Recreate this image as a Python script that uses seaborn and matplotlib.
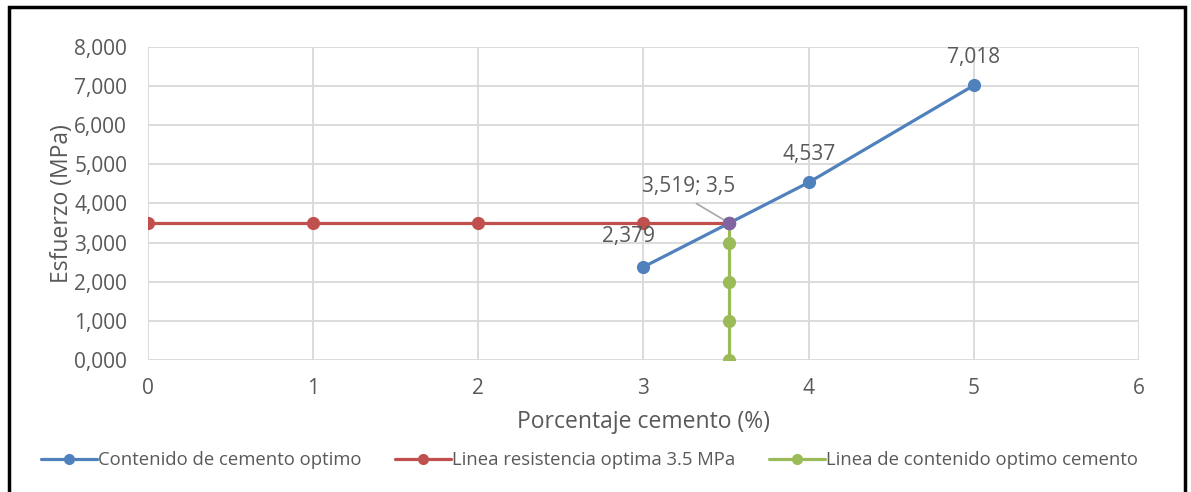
import matplotlib
matplotlib.use("Agg")
import matplotlib.pyplot as plt
from matplotlib.lines import Line2D
from matplotlib.patches import Rectangle
from matplotlib.ticker import FuncFormatter
import pandas as pd
import seaborn as sns

# Series data
cement_x = [3, 4, 5]
cement_y = [2.379, 4.537, 7.018]
resist_x = [0, 1, 2, 3, 3.519]
resist_y = [3.5, 3.5, 3.5, 3.5, 3.5]
optimal_x = [3.519, 3.519, 3.519, 3.519, 3.519]
optimal_y = [0, 1, 2, 3, 3.5]
cross_x = [3.519]
cross_y = [3.5]

names = ["Contenido de cemento optimo",
         "Linea resistencia optima 3.5 MPa",
         "Linea de contenido optimo cemento"]
colors = ["#4F81BD", "#C0504D", "#9BBB59"]
cross_color = "#8064A2"
text_color = "#595959"

x_ticks = [0, 1, 2, 3, 4, 5, 6]
y_ticks = [0, 1, 2, 3, 4, 5, 6, 7, 8]

sns.set_theme(style="whitegrid")
plt.rcParams["font.family"] = ["Open Sans", "DejaVu Sans"]

df = pd.concat([
    pd.DataFrame({"x": cement_x, "y": cement_y, "serie": names[0]}),
    pd.DataFrame({"x": resist_x, "y": resist_y, "serie": names[1]}),
    pd.DataFrame({"x": optimal_x, "y": optimal_y, "serie": names[2]}),
], ignore_index=True)

fig = plt.figure(figsize=(11.91, 4.92), dpi=100)
ax = fig.add_axes([0.1243, 0.2683, 0.832, 0.6362])

palette = dict(zip(names, colors))
for name in names:
    sub = df[df["serie"] == name]
    sns.lineplot(data=sub, x="x", y="y", color=palette[name], ax=ax,
                 linewidth=2.3, marker="o", markersize=9.5,
                 markeredgewidth=0, sort=False, estimator=None, legend=False)

# intersection point
sns.scatterplot(x=cross_x, y=cross_y, color=cross_color, s=95, linewidth=0,
                ax=ax, zorder=5, legend=False)

ax.set_xlim(0, 6)
ax.set_ylim(0, 8)
ax.set_xticks(x_ticks)
ax.set_yticks(y_ticks)
ax.yaxis.set_major_formatter(FuncFormatter(lambda v, p: f"{v:.3f}".replace(".", ",")))
ax.xaxis.set_major_formatter(FuncFormatter(lambda v, p: f"{v:g}"))
ax.grid(True, color="#D9D9D9", linewidth=1.3)
for s in ax.spines.values():
    s.set_visible(False)
ax.tick_params(axis="both", length=0, labelsize=15, colors=text_color)
ax.tick_params(axis="x", pad=13)
ax.tick_params(axis="y", pad=15)
ax.set_xlabel("Porcentaje cemento (%)", fontsize=16.5, color=text_color, labelpad=8)
ax.set_ylabel("Esfuerzo (MPa)", fontsize=16.5, color=text_color, labelpad=0)

def fmt(v, n=3):
    return f"{v:.{n}f}".replace(".", ",")

# value labels
for xv, yv in zip(cement_x[1:], cement_y[1:]):
    ax.annotate(fmt(yv), (xv, yv), xytext=(0, 20), textcoords="offset points",
                ha="center", va="center", fontsize=15, color=text_color)
ax.annotate(fmt(cement_y[0]), (cement_x[0], cement_y[0]), xytext=(-11, 22),
            textcoords="offset points", ha="center", va="center",
            fontsize=15, color=text_color)
ax.annotate(f"{fmt(cross_x[0])}; {fmt(cross_y[0], 1)}", (cross_x[0], cross_y[0]),
            xytext=(-29, 26), textcoords="offset points", ha="center", va="center",
            fontsize=15, color=text_color,
            arrowprops=dict(arrowstyle="-", color="#A6A6A6", lw=1.2,
                            shrinkA=4, shrinkB=4, relpos=(0.47, 0.0)))

handles = [Line2D([0], [0], color=c, lw=2.3, marker="o", markersize=8,
                  markeredgewidth=0) for c in colors]
fig.legend(handles, names, loc="center", bbox_to_anchor=(0.495, 0.065), ncol=3,
           frameon=False, fontsize=13.3, handlelength=3.05, handletextpad=0.05,
           columnspacing=1.8, labelcolor=text_color)

# outer frame
fig.patches.append(Rectangle((9 / 1191, -0.05), 1176 / 1191, 1.05 - 7 / 492,
                             transform=fig.transFigure, fill=False,
                             edgecolor="black", linewidth=2.5))

fig.savefig("out.png", dpi=100, facecolor="white")
